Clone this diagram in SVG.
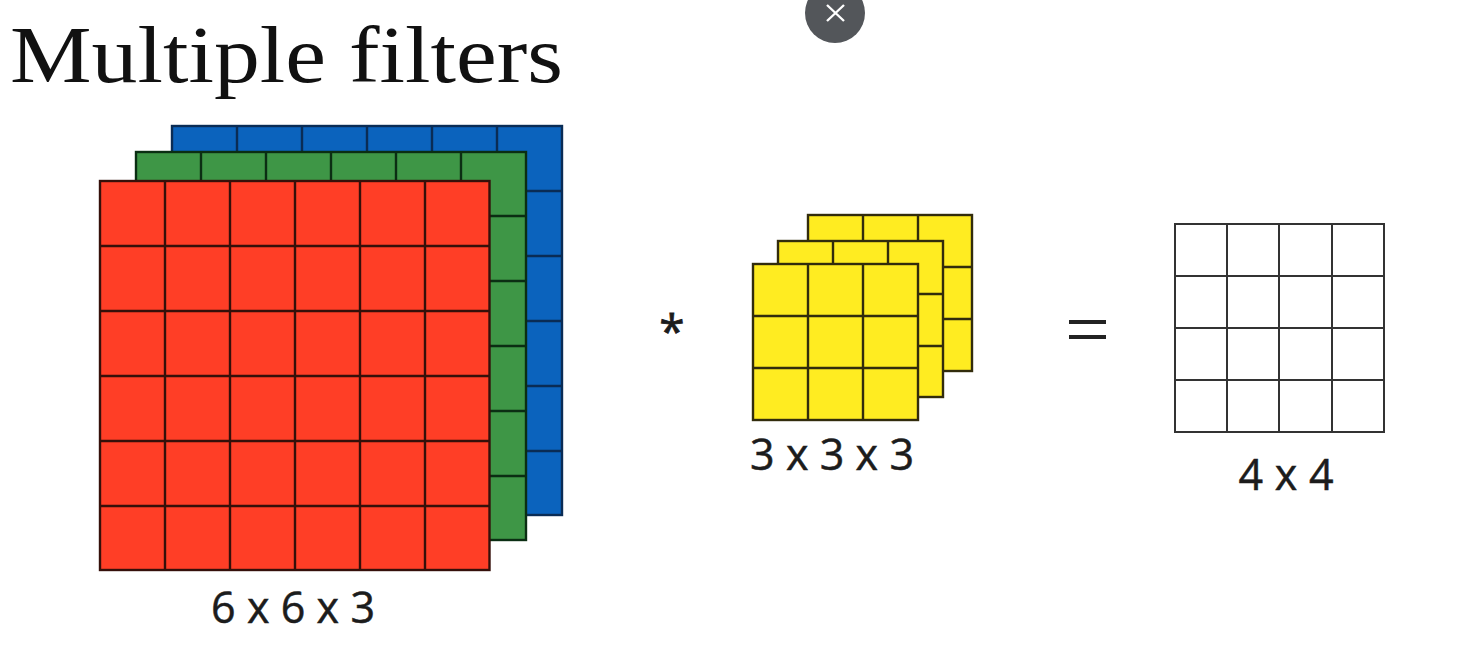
<svg xmlns="http://www.w3.org/2000/svg" width="1479" height="652" viewBox="0 0 1479 652">
<style>
.l{font-family:"Open Sans","Liberation Sans",sans-serif;font-size:43px;fill:#1c1c1c;stroke:#1c1c1c;stroke-width:.5}
.b{fill:#0b63bd;stroke:#0a2c55}
.gr{fill:#3e9646;stroke:#0b2e13}
.r{fill:#ff3e26;stroke:#35100a}
.y{fill:#ffec21;stroke:#322c0c}
.w{fill:#fff;stroke:#333}
.b rect,.b path,.gr rect,.gr path,.r rect,.r path,.y rect,.y path{stroke-width:2.4}
.w rect,.w path{stroke-width:2}
</style>
<rect width="1479" height="652" fill="#fff"/>
<text id="title" x="10" y="82" font-family="'Liberation Serif','Times New Roman',serif" font-size="80" fill="#111" textLength="553" lengthAdjust="spacingAndGlyphs">Multiple filters</text>
<g id="close-button">
<circle cx="835" cy="13" r="30" fill="#53565a"/>
<path d="M827 5L844 21M844 5L827 21" stroke="#fff" stroke-width="2.4" fill="none"/>
</g>
<g id="input-volume">
<g id="blue-layer" class="b"><rect x="172" y="126" width="390" height="389"/><path fill="none" d="M237 126V515M302 126V515M367 126V515M432 126V515M497 126V515M172 191H562M172 256H562M172 321H562M172 386H562M172 451H562"/></g>
<g id="green-layer" class="gr"><rect x="136" y="152" width="390" height="388"/><path fill="none" d="M201 152V540M266 152V540M331 152V540M396 152V540M461 152V540M136 216H526M136 281H526M136 346H526M136 411H526M136 476H526"/></g>
<g id="red-layer" class="r"><rect x="100" y="181" width="389.500" height="389"/><path fill="none" d="M165 181V570M230 181V570M295 181V570M360 181V570M425 181V570M100 246H490M100 311H490M100 376H490M100 441H490M100 506H490"/></g>
<text class="l" x="293" y="623" text-anchor="middle" textLength="164">6 x 6 x 3</text>
</g>
<g id="operator-star"><text x="672" y="348" text-anchor="middle" font-family="'Open Sans','Liberation Sans',sans-serif" font-size="46" fill="#1c1c1c" stroke="#1c1c1c" stroke-width=".8">*</text></g>
<g id="filter-volume">
<g id="filter-back" class="y"><rect x="808" y="215" width="164" height="156"/><path fill="none" d="M863 215V371M918 215V371M808 267H972M808 319H972"/></g>
<g id="filter-mid" class="y"><rect x="778" y="241" width="165" height="156"/><path fill="none" d="M833 241V397M888 241V397M778 294H943M778 346H943"/></g>
<g id="filter-front" class="y"><rect x="753" y="264" width="165" height="156"/><path fill="none" d="M808 264V420M863 264V420M753 316H918M753 368H918"/></g>
<text class="l" x="832" y="470" text-anchor="middle" textLength="164">3 x 3 x 3</text>
</g>
<g id="operator-equals"><path d="M1069 322H1106M1069 337H1106" stroke="#222" stroke-width="4" fill="none"/></g>
<g id="output-grid" class="w"><rect x="1175" y="224" width="209" height="208"/><path fill="none" d="M1227 224V432M1279 224V432M1332 224V432M1175 276H1384M1175 328H1384M1175 380H1384"/></g>
<text id="output-label" class="l" x="1286" y="490" text-anchor="middle" textLength="95">4 x 4</text>
</svg>
